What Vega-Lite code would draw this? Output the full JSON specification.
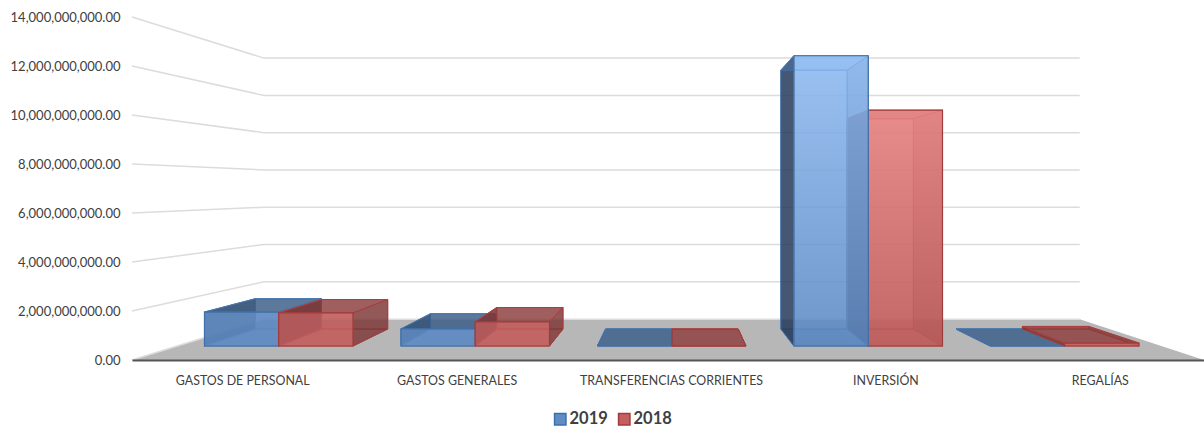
{
"$schema":"https://vega.github.io/schema/vega-lite/v6.json",
"width":1072,"height":343,
"autosize":{"type":"none"},
"padding":{"left":132,"top":17,"right":0,"bottom":68},
"background":"#ffffff",
"config":{"view":{"stroke":null},"font":"Lato"},
"datasets":{
"bars":[
{"category":"GASTOS DE PERSONAL","series":"2019","value":1510000000},
{"category":"GASTOS DE PERSONAL","series":"2018","value":1470000000},
{"category":"GASTOS GENERALES","series":"2019","value":760000000},
{"category":"GASTOS GENERALES","series":"2018","value":1070000000},
{"category":"TRANSFERENCIAS CORRIENTES","series":"2019","value":0},
{"category":"TRANSFERENCIAS CORRIENTES","series":"2018","value":0},
{"category":"INVERSIÓN","series":"2019","value":12900000000},
{"category":"INVERSIÓN","series":"2018","value":10480000000},
{"category":"REGALÍAS","series":"2019","value":0},
{"category":"REGALÍAS","series":"2018","value":130000000}
],
"ticks":[{"tick":0},{"tick":2000000000},{"tick":4000000000},{"tick":6000000000},{"tick":8000000000},{"tick":10000000000},{"tick":12000000000},{"tick":14000000000}]
},
"resolve":{"scale":{"x":"independent","y":"independent","xOffset":"independent","fill":"independent","stroke":"independent"},"axis":{"x":"independent","y":"independent"}},
"layer":[
{"data":{"name":"ticks"},
 "transform":[{"filter":"datum.tick===0"},{"calculate":"[0,1,2,3,4]","as":"c"},{"flatten":["c"]},
  {"calculate":"[0,5,5,0,0][datum.c]","as":"u"},{"calculate":"[1,1,0.761,0.761,1][datum.c]","as":"d"},
  {"calculate":"2.575+(datum.u-2.575)*datum.d","as":"xu"},{"calculate":"6980000000+(datum.tick-6980000000)*datum.d","as":"yv"}],
 "mark":{"type":"line","fill":"#b7b7b7","stroke":"#b7b7b7","strokeWidth":0},
 "encoding":{"x":{"field":"xu","type":"quantitative","axis":null,"scale":{"domain":[0,5],"range":[0,1072]}},
  "y":{"field":"yv","type":"quantitative","axis":null,"scale":{"domain":[0,14000000000],"range":[343,0],"zero":false,"nice":false}},
  "order":{"field":"c"}}},
{"data":{"name":"ticks"},
 "transform":[{"calculate":"[0,1,2]","as":"c"},{"flatten":["c"]},
  {"calculate":"[0,0,5][datum.c]","as":"u"},{"calculate":"[1,0.761,0.761][datum.c]","as":"d"},
  {"calculate":"2.575+(datum.u-2.575)*datum.d","as":"xu"},{"calculate":"6980000000+(datum.tick-6980000000)*datum.d","as":"yv"}],
 "mark":{"type":"line","stroke":"#dcdcdc","strokeWidth":1.5},
 "encoding":{"x":{"field":"xu","type":"quantitative","axis":null,"scale":{"domain":[0,5],"range":[0,1072]}},
  "y":{"field":"yv","type":"quantitative","scale":{"domain":[0,14000000000],"range":[343,0],"zero":false,"nice":false},
   "axis":{"title":null,"values":[0,2000000000,4000000000,6000000000,8000000000,10000000000,12000000000,14000000000],"format":",.2f","domain":false,"ticks":false,"grid":false,"labelPadding":12,"labelFont":"Lato","labelFontSize":13,"labelColor":"#404040"}},
  "detail":{"field":"tick"},"order":{"field":"c"}}},
{"data":{"name":"bars"},
 "transform":[{"filter":"datum.series==='2019' && datum.category!=='INVERSIÓN'"},
  {"calculate":"indexof(['GASTOS DE PERSONAL','GASTOS GENERALES','TRANSFERENCIAS CORRIENTES','INVERSIÓN','REGALÍAS'],datum.category)","as":"gi"},
  {"calculate":"datum.series==='2019'?0:1","as":"si"},
  {"calculate":"[0,1,2,3,4]","as":"f"},{"flatten":["f"]},{"calculate":"[0,1,2,3,4]","as":"c"},{"flatten":["c"]},
  {"calculate":"[[0,1,1,0,0],[0,1,1,0,0],[0,0,0,0,0],[1,1,1,1,1],[0,1,1,0,0]][datum.f][datum.c]","as":"s"},
  {"calculate":"[[1,1,1,1,1],[0,0,1,1,0],[0,1,1,0,0],[0,1,1,0,0],[0,0,1,1,0]][datum.f][datum.c]","as":"b"},
  {"calculate":"[[0,0,1,1,0],[0,0,0,0,0],[0,0,1,1,0],[0,0,1,1,0],[1,1,1,1,1]][datum.f][datum.c]","as":"t"},
  {"calculate":"0.1425+datum.gi*0.998+0.3775*(datum.si+datum.s)","as":"u"},
  {"calculate":"datum.b===1?0.819:0.918","as":"d"},
  {"calculate":"datum.t===1?datum.value:0","as":"v"},
  {"calculate":"2.528+(datum.u-2.528)*datum.d","as":"xu"},
  {"calculate":"6980000000+(datum.v-6980000000)*datum.d","as":"yv"}],
 "mark":{"type":"line","strokeWidth":1,"stroke":"#4a78ad"},
 "encoding":{"x":{"field":"xu","type":"quantitative","axis":null,"scale":{"domain":[0,5],"range":[0,1072]}},
  "y":{"field":"yv","type":"quantitative","axis":null,"scale":{"domain":[0,14000000000],"range":[343,0],"zero":false,"nice":false}},
  "fill":{"field":"f","type":"nominal","legend":null,"scale":{"domain":[0,1,2,3,4],"range":["rgba(65,100,150,0.5)","rgba(70,110,170,0.5)","rgba(35,55,85,0.75)","rgba(45,70,105,0.65)","rgba(55,90,130,0.65)"]}},
  "detail":{"field":"category"},"order":{"field":"c"}}},
{"data":{"name":"bars"},
 "transform":[{"filter":"datum.series==='2019' && datum.category!=='INVERSIÓN'"}],
 "mark":{"type":"bar","fill":"#5f8cc6","fillOpacity":0.82,"stroke":"#3f6fa8","strokeWidth":1.2},
 "encoding":{"x":{"field":"category","type":"nominal","axis":null,"scale":{"domain":["GASTOS DE PERSONAL","GASTOS GENERALES","TRANSFERENCIAS CORRIENTES","INVERSIÓN","REGALÍAS"],"range":[48.5,1031],"paddingInner":0.2443,"paddingOuter":0.1221,"round":false}},
  "xOffset":{"field":"series","type":"nominal","scale":{"domain":["2019","2018"]}},
  "y":{"field":"value","type":"quantitative","axis":null,"scale":{"domain":[0,14000000000],"range":[329,14],"nice":false}}}},
{"data":{"name":"bars"},
 "transform":[{"filter":"datum.series==='2018'"},
  {"calculate":"indexof(['GASTOS DE PERSONAL','GASTOS GENERALES','TRANSFERENCIAS CORRIENTES','INVERSIÓN','REGALÍAS'],datum.category)","as":"gi"},
  {"calculate":"datum.series==='2019'?0:1","as":"si"},
  {"calculate":"[0,1,2,3,4]","as":"f"},{"flatten":["f"]},{"calculate":"[0,1,2,3,4]","as":"c"},{"flatten":["c"]},
  {"calculate":"[[0,1,1,0,0],[0,1,1,0,0],[0,0,0,0,0],[1,1,1,1,1],[0,1,1,0,0]][datum.f][datum.c]","as":"s"},
  {"calculate":"[[1,1,1,1,1],[0,0,1,1,0],[0,1,1,0,0],[0,1,1,0,0],[0,0,1,1,0]][datum.f][datum.c]","as":"b"},
  {"calculate":"[[0,0,1,1,0],[0,0,0,0,0],[0,0,1,1,0],[0,0,1,1,0],[1,1,1,1,1]][datum.f][datum.c]","as":"t"},
  {"calculate":"0.1425+datum.gi*0.998+0.3775*(datum.si+datum.s)","as":"u"},
  {"calculate":"datum.b===1?0.819:0.918","as":"d"},
  {"calculate":"datum.t===1?datum.value:0","as":"v"},
  {"calculate":"2.528+(datum.u-2.528)*datum.d","as":"xu"},
  {"calculate":"6980000000+(datum.v-6980000000)*datum.d","as":"yv"}],
 "mark":{"type":"line","strokeWidth":1,"stroke":"#a8403f"},
 "encoding":{"x":{"field":"xu","type":"quantitative","axis":null,"scale":{"domain":[0,5],"range":[0,1072]}},
  "y":{"field":"yv","type":"quantitative","axis":null,"scale":{"domain":[0,14000000000],"range":[343,0],"zero":false,"nice":false}},
  "fill":{"field":"f","type":"nominal","legend":null,"scale":{"domain":[0,1,2,3,4],"range":["rgba(160,70,70,0.5)","rgba(170,70,70,0.5)","rgba(100,45,45,0.7)","rgba(115,50,50,0.65)","rgba(135,60,60,0.65)"]}},
  "detail":{"field":"category"},"order":{"field":"c"}}},
{"data":{"name":"bars"},
 "transform":[{"filter":"datum.series==='2018' && datum.category!=='INVERSIÓN'"}],
 "mark":{"type":"bar","fill":"#c45f5f","fillOpacity":0.82,"stroke":"#a23c3c","strokeWidth":1.2},
 "encoding":{"x":{"field":"category","type":"nominal","axis":null,"scale":{"domain":["GASTOS DE PERSONAL","GASTOS GENERALES","TRANSFERENCIAS CORRIENTES","INVERSIÓN","REGALÍAS"],"range":[48.5,1031],"paddingInner":0.2443,"paddingOuter":0.1221,"round":false}},
  "xOffset":{"field":"series","type":"nominal","scale":{"domain":["2019","2018"]}},
  "y":{"field":"value","type":"quantitative","axis":null,"scale":{"domain":[0,14000000000],"range":[329,14],"nice":false}}}},
{"data":{"name":"bars"},
 "transform":[{"filter":"datum.series==='2018' && datum.category==='INVERSIÓN'"}],
 "mark":{"type":"bar","fillOpacity":0.82,"stroke":"#a23c3c","strokeWidth":1.2,"fill":{"x1":0,"y1":0,"x2":0,"y2":1,"gradient":"linear","stops":[{"offset":0,"color":"#ee8886"},{"offset":1,"color":"#c05a5a"}]}},
 "encoding":{"x":{"field":"category","type":"nominal","axis":null,"scale":{"domain":["GASTOS DE PERSONAL","GASTOS GENERALES","TRANSFERENCIAS CORRIENTES","INVERSIÓN","REGALÍAS"],"range":[48.5,1031],"paddingInner":0.2443,"paddingOuter":0.1221,"round":false}},
  "xOffset":{"field":"series","type":"nominal","scale":{"domain":["2019","2018"]}},
  "y":{"field":"value","type":"quantitative","axis":null,"scale":{"domain":[0,14000000000],"range":[329,14],"nice":false}}}},
{"data":{"name":"bars"},
 "transform":[{"filter":"datum.series==='2019' && datum.category==='INVERSIÓN'"},
  {"calculate":"indexof(['GASTOS DE PERSONAL','GASTOS GENERALES','TRANSFERENCIAS CORRIENTES','INVERSIÓN','REGALÍAS'],datum.category)","as":"gi"},
  {"calculate":"datum.series==='2019'?0:1","as":"si"},
  {"calculate":"[0,1,2,3,4]","as":"f"},{"flatten":["f"]},{"calculate":"[0,1,2,3,4]","as":"c"},{"flatten":["c"]},
  {"calculate":"[[0,1,1,0,0],[0,1,1,0,0],[0,0,0,0,0],[1,1,1,1,1],[0,1,1,0,0]][datum.f][datum.c]","as":"s"},
  {"calculate":"[[1,1,1,1,1],[0,0,1,1,0],[0,1,1,0,0],[0,1,1,0,0],[0,0,1,1,0]][datum.f][datum.c]","as":"b"},
  {"calculate":"[[0,0,1,1,0],[0,0,0,0,0],[0,0,1,1,0],[0,0,1,1,0],[1,1,1,1,1]][datum.f][datum.c]","as":"t"},
  {"calculate":"0.1425+datum.gi*0.998+0.3775*(datum.si+datum.s)","as":"u"},
  {"calculate":"datum.b===1?0.819:0.918","as":"d"},
  {"calculate":"datum.t===1?datum.value:0","as":"v"},
  {"calculate":"2.528+(datum.u-2.528)*datum.d","as":"xu"},
  {"calculate":"6980000000+(datum.v-6980000000)*datum.d","as":"yv"}],
 "mark":{"type":"line","strokeWidth":1,"stroke":"#4a78ad"},
 "encoding":{"x":{"field":"xu","type":"quantitative","axis":null,"scale":{"domain":[0,5],"range":[0,1072]}},
  "y":{"field":"yv","type":"quantitative","axis":null,"scale":{"domain":[0,14000000000],"range":[343,0],"zero":false,"nice":false}},
  "fill":{"field":"f","type":"nominal","legend":null,"scale":{"domain":[0,1,2,3,4],"range":["rgba(60,100,160,0.25)","rgba(70,110,170,0.5)","rgba(35,55,85,0.8)","rgba(35,65,110,0.45)","rgba(70,120,190,0.35)"]}},
  "detail":{"field":"category"},"order":{"field":"c"}}},
{"data":{"name":"bars"},
 "transform":[{"filter":"datum.series==='2019' && datum.category==='INVERSIÓN'"}],
 "mark":{"type":"bar","fillOpacity":0.82,"stroke":"#3f6fa8","strokeWidth":1.2,"fill":{"x1":0,"y1":0,"x2":0,"y2":1,"gradient":"linear","stops":[{"offset":0,"color":"#8fbdf5"},{"offset":1,"color":"#5a88c2"}]}},
 "encoding":{"x":{"field":"category","type":"nominal","axis":null,"scale":{"domain":["GASTOS DE PERSONAL","GASTOS GENERALES","TRANSFERENCIAS CORRIENTES","INVERSIÓN","REGALÍAS"],"range":[48.5,1031],"paddingInner":0.2443,"paddingOuter":0.1221,"round":false}},
  "xOffset":{"field":"series","type":"nominal","scale":{"domain":["2019","2018"]}},
  "y":{"field":"value","type":"quantitative","axis":null,"scale":{"domain":[0,14000000000],"range":[329,14],"nice":false}}}},
{"data":{"name":"bars"},
 "mark":{"type":"square","size":0,"opacity":1},
 "encoding":{
  "x":{"field":"category","type":"nominal","scale":{"domain":["GASTOS DE PERSONAL","GASTOS GENERALES","TRANSFERENCIAS CORRIENTES","INVERSIÓN","REGALÍAS"],"range":[0,1072]},
   "axis":{"title":null,"labelAngle":0,"ticks":false,"labelPadding":14,"labelOffset":3,"labelLimit":300,"labelFont":"Lato","labelFontSize":12.4,"labelColor":"#404040","domainColor":"#555555","domainWidth":2,"zindex":1,"grid":false}},
  "fill":{"field":"series","type":"nominal","scale":{"domain":["2019","2018"],"range":["#5f8cc6","#c45f5f"]},
   "legend":{"title":null,"orient":"none","legendX":420,"legendY":394,"direction":"horizontal","symbolType":"square","symbolSize":130,"symbolOpacity":1,"labelFont":"Lato","labelFontSize":16.5,"labelFontWeight":"bold","labelColor":"#404040","columnPadding":7,"labelOffset":1}},
  "stroke":{"field":"series","type":"nominal","scale":{"domain":["2019","2018"],"range":["#3f6fa8","#a23c3c"]},"legend":{"title":null,"orient":"none","legendX":420,"legendY":394,"direction":"horizontal","symbolType":"square","symbolSize":130,"symbolOpacity":1,"labelFont":"Lato","labelFontSize":16.5,"labelFontWeight":"bold","labelColor":"#404040","columnPadding":7,"labelOffset":1}}}}
]
}
